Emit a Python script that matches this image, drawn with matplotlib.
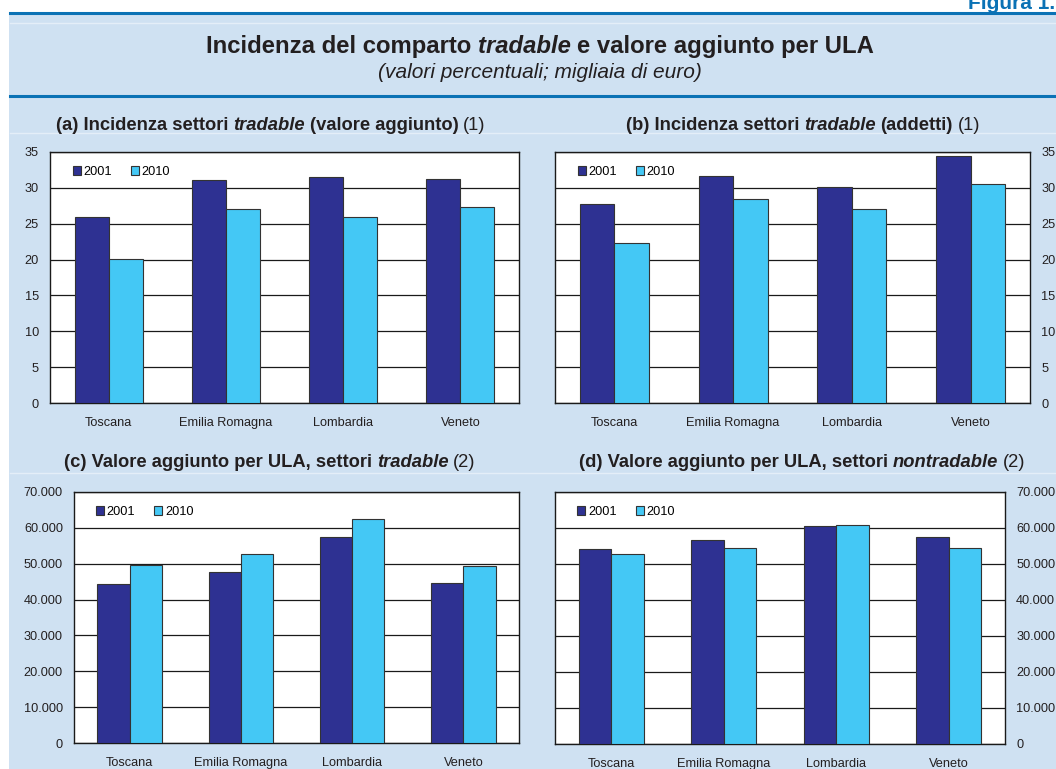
"""Incidenza del comparto tradable e valore aggiunto per ULA (four bar panels)."""

import matplotlib
matplotlib.use("Agg")
import matplotlib.pyplot as plt
from matplotlib.patches import Rectangle
from matplotlib.lines import Line2D
from matplotlib.ticker import FuncFormatter
import numpy as np

plt.rcParams["font.family"] = ["Liberation Sans", "DejaVu Sans"]

regions = ["Toscana", "Emilia Romagna", "Lombardia", "Veneto"]
years = ["2001", "2010"]

# (a) incidenza settori tradable, valore aggiunto (%)
share_va_2001 = [26.0, 31.1, 31.5, 31.3]
share_va_2010 = [20.1, 27.0, 26.0, 27.4]
# (b) incidenza settori tradable, addetti (%)
share_emp_2001 = [27.7, 31.6, 30.1, 34.4]
share_emp_2010 = [22.3, 28.4, 27.1, 30.6]
# (c) valore aggiunto per ULA, settori tradable (euro)
va_tradable_2001 = [44300, 47600, 57400, 44600]
va_tradable_2010 = [49700, 52600, 62600, 49400]
# (d) valore aggiunto per ULA, settori nontradable (euro)
va_nontradable_2001 = [54100, 56700, 60500, 57500]
va_nontradable_2010 = [52900, 54400, 60900, 54400]

DARK = "#2E3192"
LIGHT = "#44C8F5"
BG = "#CFE1F2"
LINE_BLUE = "#0B72B5"
TEXT = "#231F20"

W, H = 1056, 769
fig = plt.figure(figsize=(W / 100, H / 100), dpi=100)
fig.patch.set_facecolor("white")


def fx(px):
    return px / W


def fy(py):
    return 1 - py / H


# background panel and rules
fig.patches.append(Rectangle((fx(9), 0), 1 - fx(9), fy(13), transform=fig.transFigure,
                             facecolor=BG, edgecolor="none", zorder=-2))
for y, color, lw in [(12.5, LINE_BLUE, 2.2), (96, LINE_BLUE, 2.2),
                     (23, "#E4EEF8", 1.0), (133, "#E4EEF8", 1.0), (473, "#E4EEF8", 1.0)]:
    fig.lines.append(Line2D([fx(10), 1], [fy(y), fy(y)], transform=fig.transFigure,
                            color=color, lw=lw, zorder=-1))

fig.text(fx(968), fy(9), "Figura 1.", fontsize=15, fontweight="bold",
         color=LINE_BLUE, ha="left", va="baseline")

renderer = fig.canvas.get_renderer()


def rich_title(xc, yb, parts, size):
    """Draw text pieces with mixed styles, centred on xc (pixels)."""
    texts = []
    for s, weight, style in parts:
        t = fig.text(0, fy(yb), s, fontsize=size, fontweight=weight, fontstyle=style,
                     color=TEXT, ha="left", va="baseline")
        texts.append(t)
    gap = 0.26 * size * 100 / 72
    widths = [t.get_window_extent(renderer).width for t in texts]
    total = sum(widths) + gap * (len(texts) - 1)
    x = xc - total / 2
    for t, w in zip(texts, widths):
        t.set_x(fx(x))
        x += w + gap


rich_title(540, 53, [("Incidenza del comparto", "bold", "normal"),
                     ("tradable", "bold", "italic"),
                     ("e valore aggiunto per ULA", "bold", "normal")], 17.2)
fig.text(fx(540), fy(78), "(valori percentuali; migliaia di euro)", fontsize=15,
         fontstyle="italic", color=TEXT, ha="center", va="baseline")

panels = [
    dict(box=(50, 519, 152, 403), s1=share_va_2001, s2=share_va_2010, top=35, step=5,
         right=False, tc=271, ty=130,
         title=[("(a) Incidenza settori", "bold", "normal"), ("tradable", "bold", "italic"),
                ("(valore aggiunto)", "bold", "normal"), ("(1)", "normal", "normal")]),
    dict(box=(555, 1030, 152, 403), s1=share_emp_2001, s2=share_emp_2010, top=35, step=5,
         right=True, tc=803, ty=130,
         title=[("(b) Incidenza settori", "bold", "normal"), ("tradable", "bold", "italic"),
                ("(addetti)", "bold", "normal"), ("(1)", "normal", "normal")]),
    dict(box=(74, 519, 492, 743), s1=va_tradable_2001, s2=va_tradable_2010, top=70000,
         step=10000, right=False, tc=270, ty=467,
         title=[("(c) Valore aggiunto per ULA, settori", "bold", "normal"),
                ("tradable", "bold", "italic"), ("(2)", "normal", "normal")]),
    dict(box=(555, 1005, 492, 744), s1=va_nontradable_2001, s2=va_nontradable_2010,
         top=70000, step=10000, right=True, tc=802, ty=467,
         title=[("(d) Valore aggiunto per ULA, settori", "bold", "normal"),
                ("nontradable", "bold", "italic"), ("(2)", "normal", "normal")]),
]

thousands = FuncFormatter(lambda v, _: f"{int(v):,}".replace(",", "."))

x = np.arange(len(regions))
bw = 0.29
for p in panels:
    left, right, top, bottom = p["box"]
    ax = fig.add_axes([fx(left), fy(bottom), fx(right - left), (bottom - top) / H])
    ax.set_facecolor("white")
    ax.bar(x - bw / 2, p["s1"], bw, color=DARK, edgecolor="#333333", linewidth=0.8,
           label=years[0], zorder=3)
    ax.bar(x + bw / 2, p["s2"], bw, color=LIGHT, edgecolor="#333333", linewidth=0.8,
           label=years[1], zorder=3)
    ax.set_xlim(-0.5, len(regions) - 0.5)
    ax.set_ylim(0, p["top"])
    ax.set_yticks(np.arange(0, p["top"] + p["step"] / 2, p["step"]))
    ax.yaxis.grid(True, color="#1A1A1A", linewidth=0.9, zorder=0)
    ax.set_axisbelow(True)
    ax.set_xticks(x)
    ax.set_xticklabels(regions)
    if p["top"] > 100:
        ax.yaxis.set_major_formatter(thousands)
    if p["right"]:
        ax.yaxis.tick_right()
    ax.tick_params(axis="both", length=0, labelsize=9.2, colors=TEXT)
    ax.tick_params(axis="y", pad=8)
    ax.tick_params(axis="x", pad=10)
    for sp in ax.spines.values():
        sp.set_color("#1A1A1A")
        sp.set_linewidth(1.0)
    ax.legend(loc="upper left", ncol=2, frameon=False, fontsize=9.2,
              handlelength=0.62, handleheight=0.62, handletextpad=0.2,
              columnspacing=1.5, bbox_to_anchor=(0.03, 0.98), borderaxespad=0.3)
    rich_title(p["tc"], p["ty"], p["title"], 13.2)

fig.savefig("out.png", dpi=100)
